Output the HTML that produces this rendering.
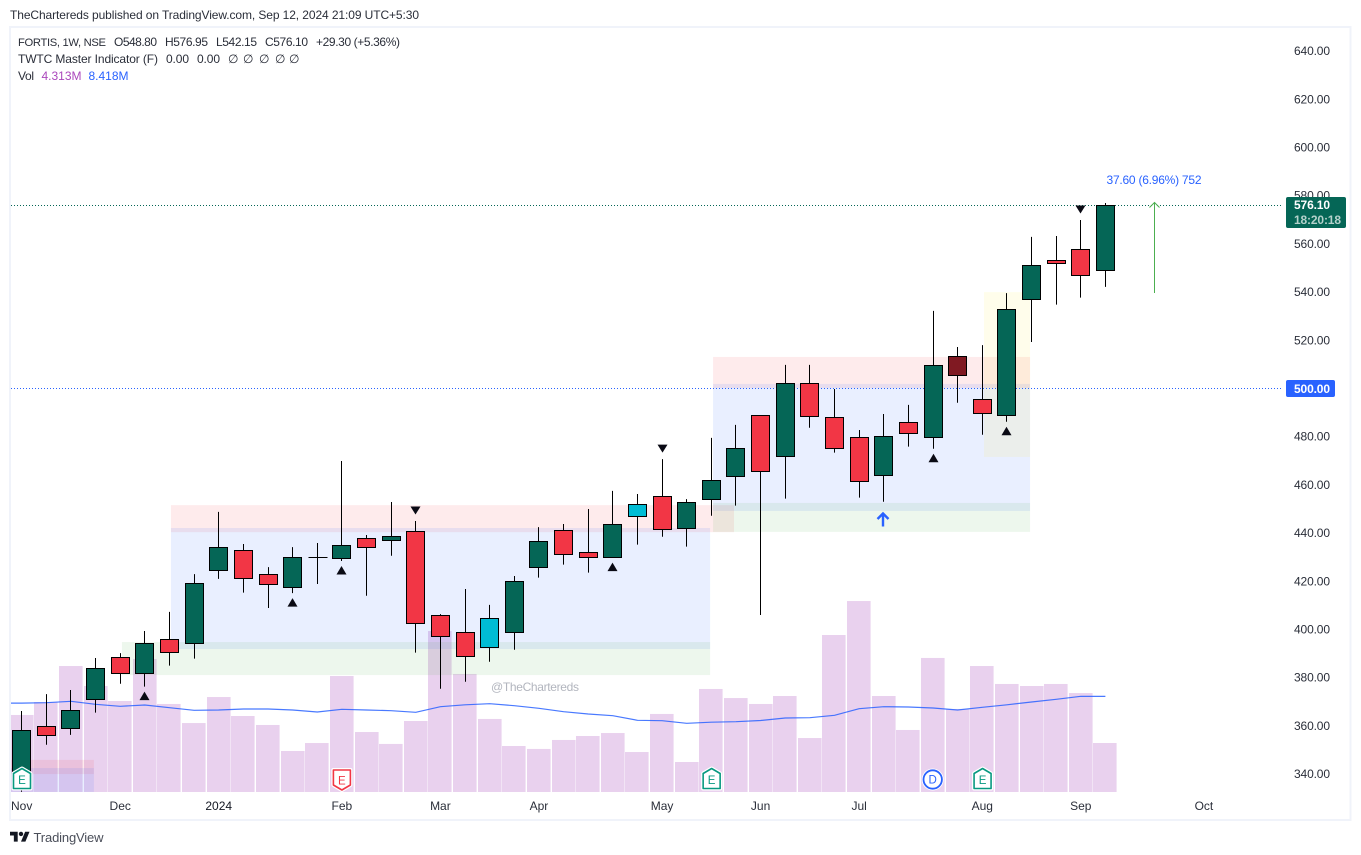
<!DOCTYPE html>
<html lang="en">
<head>
<meta charset="utf-8">
<title>FORTIS 1W chart</title>
<style>
html,body{margin:0;padding:0;background:#fff;width:1361px;height:855px;overflow:hidden}
svg{display:block;font-family:"Liberation Sans",sans-serif}
text{font-size:12px;fill:#2a2e39}
</style>
</head>
<body>
<svg id="chart" xmlns="http://www.w3.org/2000/svg" width="1361" height="855" viewBox="0 0 1361 855">
  <defs><clipPath id="plot-clip"><rect x="11" y="28" width="1272" height="764"></rect></clipPath></defs>
  <rect x="0" y="0" width="1361" height="855" fill="#ffffff"></rect>
  <text x="10" y="19" textLength="409" lengthAdjust="spacing" fill="#131722">TheChartereds published on TradingView.com, Sep 12, 2024 21:09 UTC+5:30</text>
  <rect x="10" y="27" width="1340.5" height="793" fill="none" stroke="#f0f3fa" stroke-width="2"></rect>
  <g id="volume-layer" clip-path="url(#plot-clip)"></g>
  <path id="ma-line" fill="none" stroke="#2962ff" stroke-width="1.2" opacity="0.85"></path>
  <g id="zone-layer" clip-path="url(#plot-clip)"></g>
  <text x="491" y="691" textLength="88" lengthAdjust="spacing" style="fill:#b2b5be">@TheChartereds</text>
  <line id="last-line" x1="11" x2="1283" stroke="#056656" stroke-width="1" stroke-dasharray="1 2"></line>
  <line id="level-line" x1="11" x2="1283" stroke="#2962ff" stroke-width="1" stroke-dasharray="1 2"></line>
  <g id="candle-layer"></g>
  <g id="marker-layer"></g>
  <g id="flag-layer"></g>
  <g fill="none" stroke="#2962ff" stroke-width="2.4">
    <path d="M883 526.5V513.5M877.5 519L883 513.5L888.5 519"></path>
  </g>
  <g fill="none" stroke="#4caf50" stroke-width="1">
    <path d="M1154.5 293V202.5M1149.5 207.5L1154.5 202.5L1159.5 207.5"></path>
  </g>
  <text x="1106.5" y="184" textLength="95" lengthAdjust="spacing" style="fill:#2962ff">37.60 (6.96%) 752</text>
  <g id="price-axis"></g>
  <g id="time-axis"></g>
  <rect x="1286" y="197" width="60" height="31" rx="2" fill="#056656"></rect>
  <text x="1294" y="209" textLength="36" lengthAdjust="spacing" font-weight="700" style="fill:#ffffff">576.10</text>
  <text x="1294" y="224" textLength="47" lengthAdjust="spacing" font-weight="700" style="fill:#b4d1cb">18:20:18</text>
  <rect x="1286" y="380" width="49" height="17" rx="2" fill="#2962ff"></rect>
  <text x="1294" y="393" textLength="36" lengthAdjust="spacing" font-weight="700" style="fill:#ffffff">500.00</text>

  <g>
    <text x="18" y="46" textLength="88" lengthAdjust="spacing" style="font-size:11.2px">FORTIS, 1W, NSE</text>
    <text x="114" y="46" textLength="43" lengthAdjust="spacing">O548.80</text>
    <text x="165" y="46" textLength="43" lengthAdjust="spacing">H576.95</text>
    <text x="216" y="46" textLength="41" lengthAdjust="spacing">L542.15</text>
    <text x="265" y="46" textLength="43" lengthAdjust="spacing">C576.10</text>
    <text x="316" y="46" textLength="84" lengthAdjust="spacing">+29.30 (+5.36%)</text>
    <text x="18" y="63" textLength="140" lengthAdjust="spacing">TWTC Master Indicator (F)</text>
    <text x="166" y="63" textLength="23" lengthAdjust="spacing">0.00</text>
    <text x="197" y="63" textLength="23" lengthAdjust="spacing">0.00</text>
    <text x="228" y="63">∅</text>
    <text x="243" y="63">∅</text>
    <text x="259" y="63">∅</text>
    <text x="275" y="63">∅</text>
    <text x="289" y="63">∅</text>
    <text x="18" y="80" textLength="16" lengthAdjust="spacing">Vol</text>
    <text x="41.5" y="80" textLength="40" lengthAdjust="spacing" style="fill:#ab47bc">4.313M</text>
    <text x="88.5" y="80" textLength="40" lengthAdjust="spacing" style="fill:#2962ff">8.418M</text>
  </g>

  <g>
    <g transform="translate(10 829.5) scale(.55)" fill="#131722">
      <path d="M14 22H7V11H0V4h14v18zM28 22h-8l7.5-18h8L28 22z"></path><circle cx="20" cy="8" r="4"></circle>
    </g>
    <text x="33.5" y="842" textLength="70" lengthAdjust="spacing" style="font-size:13px;fill:#4a4e59">TradingView</text>
  </g>
</svg>

<script>
// ---- Chart data ----
const priceTicks = [640,620,600,580,560,540,520,500,480,460,440,420,400,380,360,340];
const timeIndex = [0,4,8,13,17,21,26,30,34,39,43,48];
const timeLabels = ['Nov','Dec','2024','Feb','Mar','Apr','May','Jun','Jul','Aug','Sep','Oct'];
const bodyTop = [358.2,359.8,366.5,383.9,388.5,394.3,395.9,419.2,434.1,432.9,422.9,430,430,434.9,437.8,438.7,440.7,405.9,398.8,404.6,420,436.6,441.2,432,443.7,452,455.3,452.8,461.9,475.2,488.9,502.2,502.2,488,479.8,480.2,486,509.6,513.4,495.5,532.9,551.2,553.2,557.8,576.1];
const bodyBottom = [339.6,355.9,358.8,370.9,381.7,381.7,390.4,394.1,424.4,421.1,418.6,417.3,430,429.4,434.1,436.8,402.6,397.2,388.7,392.4,398.8,425.6,431,429.8,429.8,446.8,441.4,441.8,453.9,463.4,465.5,471.9,488.3,475,461.3,463.8,481.2,479.8,505.3,489.5,488.7,537.1,552,547,548.8];
const highs = [366.2,373.2,374.9,388.2,390.2,399.4,407.3,423,448.8,435.5,425.9,434.2,435.9,469.9,439.2,452.9,445,406.4,416.8,410.2,422.2,442.5,443.8,450,457.5,456.2,470.7,454.1,479.5,484.9,488.9,509.8,509.8,499.8,482.8,489.4,493.2,532.2,517.2,518,539.6,562.9,563.3,569.9,576.95];
const lows = [332.7,352.2,356.3,365.5,377.5,376.3,385,387.9,421,415.3,408.9,415.1,418.9,428.4,414,430.6,390.4,375.4,378.3,386.6,391.6,421.5,426.9,423.6,429.8,435.2,438.5,434.4,447.2,451.4,406,454.3,483.7,473.4,454.7,453,475.9,475,494.1,480.8,486.2,519.3,534.8,537.7,542.15];
const candleKinds = ['up','down','up','up','down','up','down','up','up','down','down','up','flat','up','down','up','down','down','down','inside','up','up','down','down','up','inside','down','up','up','up','down','up','down','down','down','up','down','up','trap','down','up','up','down','down','up'];
const volumes = [6.78,7.92,11.09,9.33,8.01,11.71,7.75,6.07,8.36,6.69,5.90,3.61,4.31,10.21,5.28,4.23,6.25,14.17,10.39,6.43,4.05,3.79,4.58,4.93,5.19,3.52,6.87,2.64,9.07,8.27,7.75,8.45,4.75,13.82,16.81,8.45,5.46,11.80,7.31,11.09,9.51,9.33,9.51,8.71,4.313];
const volumeMA = [7.83,7.86,7.98,7.72,7.54,7.66,7.42,7.19,7.22,7.31,7.31,7.22,7.04,7.28,7.22,7.16,7.02,7.51,7.68,7.77,7.60,7.37,7.07,6.87,6.72,6.31,6.28,6.05,6.14,6.19,6.29,6.51,6.54,6.75,7.33,7.51,7.48,7.39,7.22,7.46,7.68,7.92,8.16,8.42,8.418];
const upMarkers = [5,11,13,24,37,40];
const downMarkers = [16,26,43];
const earningsUp = [0,28,39];
const earningsDown = [13];
const dividends = [37];
const lastPrice = 576.10;
const levelPrice = 500;
// zones as [name, bar-from, bar-to, price-high, price-low, kind]
const zones = [
  ['zone-1-red',6.06,28.92,451.6,440.4,'red'],
  ['zone-1-blue',6.06,27.95,442.1,391.9,'blue'],
  ['zone-1-green',4.07,27.95,394.8,381.1,'green'],
  ['zone-2-red',28.07,40.94,513.1,500.2,'red'],
  ['zone-2-blue',28.07,40.94,501.9,449.2,'blue'],
  ['zone-2-green',28.07,40.94,452.5,440.5,'green'],
  ['zone-3-yellow',39.07,40.94,540,471.6,'yellow'],
  ['zone-0-red',-0.47,2.93,345.9,340,'red'],
  ['zone-0-blue',-0.47,2.93,342.5,332.6,'blue']
];
const kindFill = {up:'#056656',down:'#f23645',inside:'#00bcd4',trap:'#801922',flat:'#000000'};
const zoneFill = {red:'rgba(242,54,69,.1)',blue:'rgba(41,98,255,.1)',green:'rgba(76,175,80,.1)',yellow:'rgba(255,235,59,.1)'};

// ---- Axis functions ----
const barStep = 24.63, barStart = 21.7, plotLeft = 11;
const xOf = i => barStart + barStep * i;
const yOf = p => 388.5 + (500 - p) * 2.41;
const volBase = 792, volScale = 11.36;
const yVol = v => volBase - v * volScale;
const snap = x => Math.round(x - 0.5) + 0.5;

const NS = 'http://www.w3.org/2000/svg';
function mk(tag, attrs, parent, text) {
  const el = document.createElementNS(NS, tag);
  for (const k in attrs) el.setAttribute(k, attrs[k]);
  if (text !== undefined) el.textContent = text;
  parent.appendChild(el);
  return el;
}
const $ = id => document.getElementById(id);

// volume bars
volumes.forEach((v, i) => {
  const x = xOf(i);
  const bar = mk('rect', {x: Math.round(x - 12), y: yVol(v), width: 23.6, height: volBase - yVol(v), fill: '#e9d1ee'}, $('volume-layer'));
  
  
});

// volume MA (the series continues off the left edge of the plot)
$('ma-line').setAttribute('d', 'M' + plotLeft + ' ' + yVol(volumeMA[0]).toFixed(1) + volumeMA.map(v => v).map((v, i) => 'L' + xOf(i).toFixed(1) + ' ' + yVol(v).toFixed(1)).join(''));

// zones
zones.forEach(z => {
  const y1 = yOf(z[3]), y2 = yOf(z[4]), x1 = xOf(z[1]), x2 = xOf(z[2]);
  const r = mk('rect', {x: x1, y: y1, width: x2 - x1, height: y2 - y1, fill: zoneFill[z[5]]}, $('zone-layer'));
  
  
});

// reference lines
$('last-line').setAttribute('y1', snap(yOf(lastPrice)));
$('last-line').setAttribute('y2', snap(yOf(lastPrice)));
$('level-line').setAttribute('y1', snap(yOf(levelPrice)));
$('level-line').setAttribute('y2', snap(yOf(levelPrice)));

// candles
candleKinds.forEach((kind, i) => {
  const cx = snap(xOf(i));
  const wick = mk('line', {x1: cx, x2: cx, y1: yOf(highs[i]), y2: yOf(lows[i]), stroke: '#000', 'stroke-width': 1}, $('candle-layer'));
  
  
  const t = Math.floor(yOf(bodyTop[i])) + 0.5;
  const b = Math.ceil(yOf(bodyBottom[i])) - 0.5;
  if (kind === 'flat') {
    const doji = mk('line', {x1: cx - 9, x2: cx + 10, y1: t, y2: t, stroke: '#000', 'stroke-width': 1}, $('candle-layer'));
    
    
  } else {
    const body = mk('rect', {x: cx - 9, y: t, width: 18, height: Math.max(b - t, 1), fill: kindFill[kind], stroke: '#000', 'stroke-width': 1}, $('candle-layer'));
    
    
  }
});

// signal markers
upMarkers.forEach(i => {
  const cx = snap(xOf(i)), y = yOf(lows[i]) + 5;
  const m = mk('path', {d: `M${cx} ${y}L${cx + 5} ${y + 8.5}H${cx - 5}Z`, fill: '#0a0a14'}, $('marker-layer'));
  
  
});
downMarkers.forEach(i => {
  const cx = snap(xOf(i)), y = yOf(highs[i]) - 6.5;
  const m = mk('path', {d: `M${cx} ${y}L${cx + 5} ${y - 8}H${cx - 5}Z`, fill: '#0a0a14'}, $('marker-layer'));
  
  
});

// event flags
function flagPoly(cx, t, up) {
  return up
    ? `M${cx} ${t}L${cx + 8.5} ${t + 5}V${t + 20}H${cx - 8.5}V${t + 5}Z`
    : `M${cx - 8.5} ${t}H${cx + 8.5}V${t + 15}L${cx} ${t + 20}L${cx - 8.5} ${t + 15}Z`;
}
earningsUp.forEach(i => {
  const cx = xOf(i) + 0.3, t = 768.5;
  const g = mk('g', {}, $('flag-layer'));
  
  
  mk('path', {d: flagPoly(cx, t, true), fill: '#fff', stroke: '#fff', 'stroke-width': 4, 'stroke-linejoin': 'round'}, g);
  mk('path', {d: flagPoly(cx, t, true), fill: '#fff', stroke: '#089981', 'stroke-width': 1.6, 'stroke-linejoin': 'round'}, g);
  const lab = mk('text', {x: cx, y: 784, 'text-anchor': 'middle', style: 'fill:#089981;font-size:11.5px'}, g, 'E');
  
  
});
earningsDown.forEach(i => {
  const cx = xOf(i), t = 770;
  const g = mk('g', {}, $('flag-layer'));
  
  
  mk('path', {d: flagPoly(cx, t, false), fill: '#fff', stroke: '#fff', 'stroke-width': 4, 'stroke-linejoin': 'round'}, g);
  mk('path', {d: flagPoly(cx, t, false), fill: '#fff', stroke: '#f23645', 'stroke-width': 1.6, 'stroke-linejoin': 'round'}, g);
  const lab = mk('text', {x: cx, y: 784.5, 'text-anchor': 'middle', style: 'fill:#f23645;font-size:11.5px'}, g, 'E');
  
  
});
dividends.forEach(i => {
  const cx = xOf(i) - 0.3, cy = 779.5;
  const g = mk('g', {}, $('flag-layer'));
  
  
  mk('circle', {cx: cx, cy: cy, r: 11, fill: '#fff'}, g);
  mk('circle', {cx: cx, cy: cy, r: 9.2, fill: '#fff', stroke: '#2962ff', 'stroke-width': 1.8}, g);
  const lab = mk('text', {x: cx, y: cy + 4.2, 'text-anchor': 'middle', style: 'fill:#2962ff;font-size:11.5px'}, g, 'D');
  
  
});

// axes
priceTicks.forEach(p => {
  const t = mk('text', {x: 1294, y: yOf(p) + 4, textLength: 36, lengthAdjust: 'spacing'}, $('price-axis'), p.toFixed(2));
  
  
});
timeLabels.forEach((lab, k) => {
  const attrs = {x: xOf(timeIndex[k]), y: 810, 'text-anchor': 'middle'};
  if (lab === '2024') attrs.style = 'fill:#131722';
  const t = mk('text', attrs, $('time-axis'), lab);
  
  
});
</script>
</body>
</html>
